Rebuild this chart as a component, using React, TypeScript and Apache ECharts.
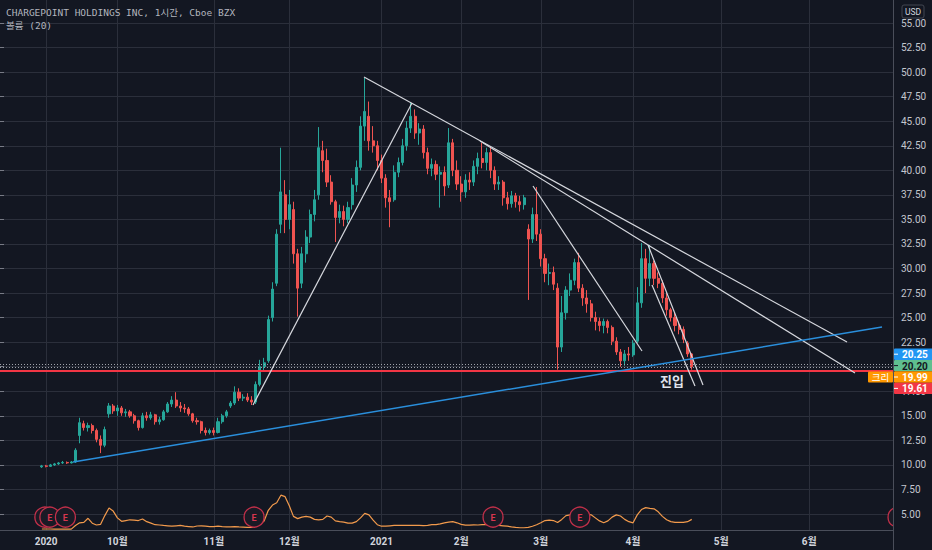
import React, { useEffect, useRef } from "react";
import * as echarts from "echarts";

// ---------- data ----------
const SLOT_COUNT = 214; // evenly spaced time slots (≈ one trading day each), incl. future area
const FIRST_SLOT = 10; // slot of the first candle

// month tick labels: [slot, label]
const monthTicks: [number, string][] = [
  [11, "2020"],
  [28, "10월"],
  [51, "11월"],
  [69, "12월"],
  [91, "2021"],
  [110, "2월"],
  [129, "3월"],
  [151, "4월"],
  [172, "5월"],
  [193, "6월"],
];

// candles: [open, close, low, high], starting at FIRST_SLOT
const candles: number[][] = [
  [9.8, 9.9, 9.7, 10.0], [9.9, 9.85, 9.75, 10.0], [9.85, 10.0, 9.8, 10.1], [10.0, 10.1, 9.9, 10.2],
  [10.1, 10.2, 10.0, 10.3], [10.2, 10.25, 10.1, 10.4], [10.25, 10.2, 10.1, 10.35], [10.2, 10.3, 10.15, 10.4],
  [10.3, 11.5, 10.2, 11.7], [13.0, 14.3, 12.2, 14.8], [14.2, 13.8, 13.5, 14.5], [13.8, 14.0, 13.4, 14.3],
  [14.0, 13.5, 13.2, 14.2], [13.5, 12.6, 12.3, 13.7], [12.6, 12.0, 11.2, 13.0], [12.0, 13.6, 11.8, 13.9],
  [15.2, 16.0, 14.8, 16.3], [16.0, 15.5, 15.2, 16.2], [15.5, 15.8, 15.0, 16.1], [15.8, 15.3, 15.0, 16.0],
  [15.3, 15.4, 14.9, 15.7], [15.4, 15.0, 14.8, 15.6], [15.0, 14.5, 14.2, 15.2], [14.5, 13.8, 13.5, 14.6],
  [13.8, 15.0, 13.7, 15.3], [15.0, 14.8, 14.5, 15.4], [14.8, 15.1, 14.6, 15.4], [15.1, 14.4, 14.1, 15.2],
  [14.4, 14.6, 14.1, 14.9], [14.6, 15.4, 14.5, 15.6], [15.4, 16.2, 15.3, 16.4], [16.2, 16.6, 15.9, 17.0],
  [16.6, 16.0, 15.8, 17.4], [16.0, 15.8, 15.4, 16.4], [15.8, 15.7, 15.3, 16.2], [15.7, 15.2, 15.0, 15.9],
  [15.2, 14.5, 14.3, 15.3], [14.5, 14.4, 14.1, 14.8], [14.4, 13.5, 13.2, 14.5], [13.5, 13.3, 13.0, 13.8],
  [13.3, 13.5, 13.1, 13.7], [13.5, 13.3, 13.0, 13.8], [13.3, 14.4, 13.2, 14.8], [14.4, 15.0, 14.2, 15.2],
  [15.0, 15.4, 14.8, 15.6], [16.0, 16.3, 15.8, 16.5], [16.3, 17.4, 16.1, 18.0], [17.4, 16.8, 16.5, 17.8],
  [16.8, 16.9, 16.5, 17.2], [16.9, 16.6, 16.4, 17.3], [16.6, 16.4, 16.1, 17.0], [16.4, 18.2, 16.2, 18.5],
  [18.2, 20.0, 18.0, 20.7], [20.0, 20.4, 19.6, 20.9], [20.6, 24.8, 20.4, 25.2], [25.0, 27.9, 24.6, 28.6],
  [28.5, 33.5, 28.2, 34.0], [34.5, 37.8, 33.6, 42.3], [37.5, 35.0, 33.6, 39.0], [35.0, 36.5, 34.0, 38.0],
  [36.0, 31.5, 30.5, 36.8], [31.5, 28.0, 25.1, 32.0], [28.5, 31.5, 28.0, 32.2], [31.5, 33.2, 30.6, 33.9],
  [33.2, 35.5, 32.6, 36.0], [35.5, 37.0, 34.8, 38.0], [37.5, 42.3, 37.0, 44.4], [42.0, 41.0, 39.8, 43.0],
  [41.0, 38.8, 38.3, 42.2], [38.8, 36.8, 36.5, 39.5], [36.8, 35.2, 32.7, 37.0], [35.2, 35.8, 34.6, 36.5],
  [35.8, 35.0, 34.3, 36.4], [35.0, 36.2, 34.6, 36.8], [36.5, 38.5, 36.0, 39.2], [38.5, 40.3, 37.8, 41.0],
  [40.3, 44.5, 40.0, 45.5], [44.5, 46.0, 43.0, 49.4], [45.5, 43.0, 42.0, 47.0], [43.0, 42.5, 41.8, 44.5],
  [42.5, 41.0, 40.0, 43.0], [41.0, 39.2, 38.7, 41.6], [39.2, 37.2, 36.2, 39.6], [37.2, 36.8, 34.2, 38.0],
  [37.0, 39.8, 36.8, 40.5], [39.8, 40.8, 39.3, 41.3], [40.8, 42.5, 40.5, 43.2], [42.5, 44.3, 42.0, 45.0],
  [44.3, 45.5, 43.8, 46.85], [45.5, 43.8, 43.2, 46.2], [43.8, 44.2, 42.6, 44.8], [44.2, 41.8, 41.2, 44.6],
  [41.8, 40.2, 39.6, 42.3], [40.2, 40.6, 39.4, 41.2], [40.6, 39.6, 39.0, 41.0], [39.6, 39.8, 36.2, 40.4],
  [39.8, 38.4, 37.4, 40.4], [38.5, 42.8, 38.2, 44.3], [42.8, 40.0, 39.4, 43.2], [40.0, 38.6, 38.0, 41.0],
  [38.6, 37.8, 36.8, 39.4], [37.8, 39.0, 37.2, 39.6], [39.0, 38.8, 38.0, 39.8], [38.8, 40.4, 38.4, 41.0],
  [40.4, 41.2, 39.6, 41.8], [41.2, 40.8, 40.2, 42.8], [40.8, 41.8, 40.0, 42.3], [41.8, 40.0, 39.2, 42.3],
  [40.0, 38.6, 38.0, 40.4], [38.6, 38.8, 38.0, 39.4], [38.8, 37.2, 36.4, 39.0], [37.2, 36.6, 36.0, 37.8],
  [36.6, 37.4, 36.2, 37.9], [37.4, 36.8, 36.2, 37.7], [36.8, 36.5, 35.8, 37.4], [36.5, 37.2, 36.0, 37.5],
  [34.0, 33.0, 26.8, 34.5], [33.0, 35.5, 32.6, 36.2], [35.5, 33.5, 32.8, 38.3], [33.5, 31.0, 30.2, 34.0],
  [31.0, 29.5, 28.6, 31.5], [29.5, 29.6, 28.3, 30.5], [29.6, 28.4, 27.8, 30.2], [28.0, 22.0, 19.7, 28.5],
  [22.0, 25.5, 21.5, 27.2], [25.5, 27.8, 24.8, 28.2], [27.8, 28.8, 27.2, 29.5], [28.8, 30.6, 28.3, 31.0],
  [30.6, 28.0, 27.6, 31.6], [28.0, 27.0, 26.2, 28.4], [27.0, 26.4, 25.5, 27.8], [26.4, 25.0, 24.6, 26.8],
  [25.0, 24.6, 23.7, 25.6], [24.6, 24.2, 23.6, 25.0], [24.2, 24.6, 23.4, 24.9], [24.6, 24.0, 23.4, 24.8],
  [24.0, 22.6, 22.2, 24.2], [22.6, 21.5, 21.2, 23.0], [21.5, 20.6, 20.0, 21.8], [20.6, 21.3, 20.1, 21.7],
  [21.3, 21.2, 20.6, 22.0], [21.2, 22.4, 21.0, 22.7], [22.6, 26.5, 22.4, 28.1], [26.5, 31.0, 26.0, 32.6],
  [31.0, 29.0, 27.5, 32.0], [29.0, 30.5, 28.2, 32.4], [30.5, 29.0, 28.3, 30.8], [29.0, 28.5, 28.0, 29.6],
  [28.5, 27.0, 26.5, 28.8], [27.0, 25.8, 25.2, 27.5], [25.8, 25.0, 24.6, 26.0], [25.0, 24.2, 23.6, 25.5],
  [24.2, 23.8, 23.3, 24.6], [23.8, 22.8, 22.4, 24.1], [22.4, 21.3, 21.0, 22.6], [21.3, 20.0, 19.7, 21.4],
];

// volume moving average (20), millions of shares, starting at FIRST_SLOT
const volumeMA: number[] = [
  0.13, 0.13, 0.13, 0.12, 0.12, 0.12, 0.12, 0.12,
  0.6, 0.95, 1.0, 1.55, 0.9, 0.66, 0.75, 1.9,
  2.9, 2.5, 1.6, 1.15, 1.25, 1.35, 1.3, 1.25,
  1.45, 1.1, 0.9, 0.7, 0.66, 0.6, 0.55, 0.5,
  0.55, 0.6, 0.5, 0.45, 0.4, 0.53, 0.55, 0.5,
  0.45, 0.45, 0.5, 0.45, 0.42, 0.4, 0.45, 0.4,
  0.38, 0.35, 0.35, 0.5, 0.8, 1.2, 2.6, 3.3,
  3.6, 4.6, 4.4, 3.2, 1.8, 1.5, 1.7, 1.8,
  1.7, 1.4, 1.35, 1.4, 1.85, 1.7, 1.2, 1.1,
  1.05, 0.9, 0.9, 1.1, 1.6, 2.2, 2.0, 1.3,
  0.7, 0.5, 0.5, 0.55, 0.6, 0.6, 0.6, 0.62,
  0.62, 0.6, 0.6, 0.58, 0.6, 0.7, 0.7, 0.8,
  0.95, 1.05, 1.1, 0.95, 0.75, 0.65, 0.65, 0.68,
  0.66, 0.7, 0.72, 0.7, 0.7, 0.6, 0.55, 0.5,
  0.42, 0.35, 0.3, 0.3, 0.35, 0.5, 0.7, 0.95,
  1.25, 1.3, 1.25, 1.0, 1.4, 1.9, 2.0, 2.1,
  2.0, 2.0, 2.1, 2.0, 1.6, 1.2, 0.95, 1.2,
  1.7, 2.0, 1.85, 1.4, 1.1, 0.95, 2.0, 2.7,
  2.95, 2.85, 2.8, 2.4, 1.8, 1.35, 1.1, 1.0,
  1.0, 1.0, 1.1, 1.4,
];

// earnings markers (slot) and the volume level they sit on
const earningsSlots: number[] = [10.7, 11.9, 15.6, 60.6, 117.6, 138.3, 214.2];
const earningsLevel = 1.7;

// drawn trend lines: [[slot, price], [slot, price]]
const whiteTrendLines: number[][][] = [
  [[60.35, 16.1], [98.27, 46.85]],
  [[86.82, 49.5], [202.03, 22.52]],
  [[114.49, 42.98], [203.94, 19.36]],
  [[127.13, 38.4], [153.13, 21.6]],
  [[154.56, 32.39], [167.68, 18.14]],
  [[155.52, 28.32], [165.77, 18.03]],
];
const blueTrendLine: number[][] = [[17.41, 10.3], [210.38, 24.04]];

// horizontal levels
const redLevel = 19.61;
const dottedLevels: number[] = [20.22, 19.99];

// price axis
const priceMin = 5;
const priceMax = 55;
const priceStep = 2.5;
const volumeMax = 70;

// right-hand price tags (label, fill, text colour)
const priceTags: [string, string, string][] = [
  ["20.25", "#2196f3", "#ffffff"],
  ["20.20", "#5fbf8f", "#131722"],
  ["19.99", "#ff9800", "#ffffff"],
  ["19.61", "#f23645", "#ffffff"],
];

const titleText = "CHARGEPOINT HOLDINGS INC, 1시간, Cboe BZX";
const indicatorText = "볼륨 (20)";
const lineLabelText = "크리";
const entryText = "진입";

// ---------- chart ----------
const categories: string[] = Array.from({ length: SLOT_COUNT }, () => "");
monthTicks.forEach(([s, l]) => {
  categories[s] = l;
});
const isTick = (_i: number, v: string) => v !== "";

export default function App() {
  const ref = useRef<HTMLDivElement>(null);

  useEffect(() => {
    if (!ref.current) return;
    const chart = echarts.init(ref.current, undefined, { renderer: "svg" });

    const gridColor = "#2b2f3b";
    const plotRight = 893;

    const trendSeries = whiteTrendLines.map((seg) => ({
      type: "line",
      xAxisIndex: 2,
      yAxisIndex: 0,
      data: seg,
      symbol: "none",
      silent: true,
      z: 5,
      lineStyle: { color: "#d6d8de", width: 1.2 },
    }));

    const tagTop = 348.5;
    const tagH = 11.4;
    const tagGraphics: any[] = [];
    priceTags.forEach(([label, fill, txt], k) => {
      const y = tagTop + k * tagH;
      tagGraphics.push({
        type: "rect",
        z: 100,
        shape: { x: plotRight + 1, y, width: 39, height: tagH, r: 1 },
        style: { fill },
      });
      tagGraphics.push({
        type: "line",
        z: 101,
        shape: { x1: plotRight + 1, y1: y + tagH / 2, x2: plotRight + 5, y2: y + tagH / 2 },
        style: { stroke: txt, lineWidth: 1 },
      });
      tagGraphics.push({
        type: "text",
        z: 101,
        x: plotRight + 9,
        y: y + tagH / 2 + 0.5,
        style: {
          text: label,
          fill: txt,
          font: "bold 10px Roboto, 'DejaVu Sans', sans-serif",
          textVerticalAlign: "middle",
          verticalAlign: "middle",
        },
      });
    });

    const option: any = {
      animation: false,
      backgroundColor: "#131722",
      grid: [
        { left: 0, right: 39, top: 23, bottom: 36 },
        { left: 0, right: 39, top: 0, bottom: 20 },
      ],
      xAxis: [
        { type: "category", gridIndex: 0, data: categories, boundaryGap: false, show: false },
        {
          type: "category",
          gridIndex: 1,
          data: categories,
          boundaryGap: false,
          axisLine: { show: true, lineStyle: { color: "#4a4e5a", width: 1 } },
          axisTick: { show: false },
          axisLabel: {
            interval: isTick,
            color: "#d1d4dc",
            fontSize: 10,
            fontWeight: "bold",
            fontFamily: "Roboto, 'Noto Sans CJK KR', sans-serif",
            margin: 6,
          },
          splitLine: { show: true, interval: isTick, lineStyle: { color: gridColor, width: 1 } },
        },
        { type: "value", gridIndex: 0, min: 0, max: SLOT_COUNT - 1, show: false },
        { type: "value", gridIndex: 1, min: 0, max: SLOT_COUNT - 1, show: false },
      ],
      yAxis: [
        {
          type: "value",
          gridIndex: 0,
          position: "right",
          min: priceMin,
          max: priceMax,
          interval: priceStep,
          axisLine: { show: false },
          axisTick: { show: true, length: 4, lineStyle: { color: "#787b86" } },
          axisLabel: {
            color: "#c3c6ce",
            fontSize: 10,
            fontFamily: "Roboto, 'DejaVu Sans', sans-serif",
            margin: 8,
            formatter: (v: number) => v.toFixed(2),
          },
          splitLine: { show: true, lineStyle: { color: gridColor, width: 1 } },
        },
        { type: "value", gridIndex: 1, min: 0, max: volumeMax, show: false },
      ],
      series: [
        {
          type: "candlestick",
          xAxisIndex: 0,
          yAxisIndex: 0,
          data: candles.map((c, k) => [FIRST_SLOT + k, c[0], c[1], c[2], c[3]]),
          encode: { x: 0, y: [1, 2, 3, 4] },
          barWidth: 2.6,
          z: 3,
          itemStyle: {
            color: "#26a69a",
            color0: "#ef5350",
            borderColor: "#26a69a",
            borderColor0: "#ef5350",
            borderWidth: 1,
          },
          markLine: {
            silent: true,
            symbol: ["none", "none"],
            label: { show: false },
            z: 4,
            data: [
              { yAxis: redLevel, lineStyle: { color: "#f23645", width: 2, type: "solid" } },
              ...dottedLevels.map((v) => ({
                yAxis: v,
                lineStyle: { color: "#a0a3ab", width: 1, type: [1, 2] },
              })),
            ],
          },
        },
        ...trendSeries,
        {
          type: "line",
          xAxisIndex: 2,
          yAxisIndex: 0,
          data: blueTrendLine,
          symbol: "none",
          silent: true,
          z: 5,
          lineStyle: { color: "#2a8fdc", width: 1.5 },
        },
        {
          type: "line",
          xAxisIndex: 1,
          yAxisIndex: 1,
          data: volumeMA.map((v, k) => [FIRST_SLOT + k, v]),
          symbol: "none",
          silent: true,
          z: 4,
          lineStyle: { color: "#f29a4c", width: 1.2 },
        },
        {
          type: "custom",
          xAxisIndex: 3,
          yAxisIndex: 1,
          data: earningsSlots.map((s) => [s, earningsLevel]),
          silent: true,
          clip: true,
          z: 6,
          renderItem: (_params: any, api: any) => {
            const p = api.coord([api.value(0), api.value(1)]);
            return {
              type: "group",
              children: [
                {
                  type: "circle",
                  shape: { cx: p[0], cy: p[1], r: 10 },
                  style: { fill: "#1a1a25", stroke: "#c3304a", lineWidth: 1.3 },
                },
                {
                  type: "text",
                  style: {
                    text: "E",
                    x: p[0],
                    y: p[1] + 0.5,
                    fill: "#d8364f",
                    font: "bold 9px Roboto, sans-serif",
                    align: "center",
                    verticalAlign: "middle",
                  },
                },
              ],
            };
          },
        },
      ],
      graphic: [
        {
          type: "line",
          z: 50,
          shape: { x1: plotRight + 0.5, y1: 0, x2: plotRight + 0.5, y2: 550 },
          style: { stroke: "#4a4e5a", lineWidth: 1 },
        },
        {
          type: "text",
          z: 60,
          x: 6,
          y: 8,
          style: { text: titleText, fill: "#b2b5be", font: "9.5px 'DejaVu Sans Mono', 'Noto Sans CJK KR', monospace" },
        },
        {
          type: "text",
          z: 60,
          x: 6,
          y: 21,
          style: { text: indicatorText, fill: "#b2b5be", font: "9.5px 'DejaVu Sans Mono', 'Noto Sans CJK KR', monospace" },
        },
        {
          type: "rect",
          z: 60,
          shape: { x: 902, y: 5, width: 22, height: 13, r: 2 },
          style: { fill: "#131722", stroke: "#434651", lineWidth: 1 },
        },
        {
          type: "text",
          z: 61,
          x: 913,
          y: 11.5,
          style: {
            text: "USD",
            fill: "#d1d4dc",
            font: "8.5px Roboto, sans-serif",
            align: "center",
            verticalAlign: "middle",
          },
        },
        ...tagGraphics,
        {
          type: "rect",
          z: 100,
          shape: { x: 868, y: 371.5, width: 25, height: 11, r: 1 },
          style: { fill: "#ff9800" },
        },
        {
          type: "text",
          z: 101,
          x: 880.5,
          y: 377.2,
          style: {
            text: lineLabelText,
            fill: "#ffffff",
            font: "9.5px 'Noto Sans CJK KR', sans-serif",
            align: "center",
            verticalAlign: "middle",
          },
        },
        {
          type: "text",
          z: 60,
          x: 672,
          y: 380,
          style: {
            text: entryText,
            fill: "#e0e3eb",
            font: "bold 13px 'Noto Sans CJK KR', sans-serif",
            align: "center",
            verticalAlign: "middle",
          },
        },
      ],
    };

    chart.setOption(option);
    return () => chart.dispose();
  }, []);

  return (
    <div
      ref={ref}
      style={{ position: "fixed", left: 0, top: 0, width: 932, height: 550, background: "#131722" }}
    />
  );
}
